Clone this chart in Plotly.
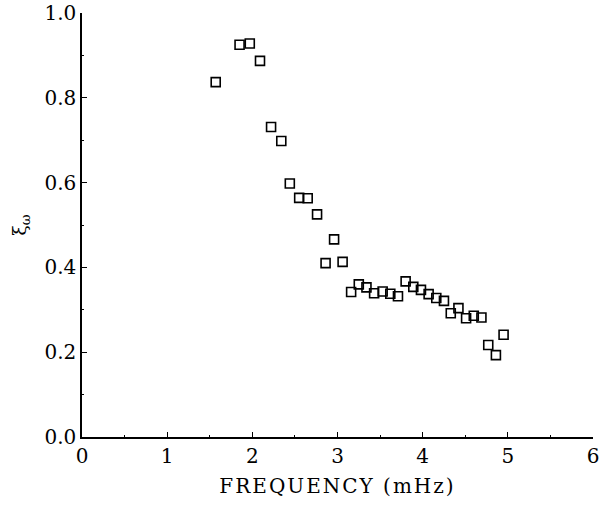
import plotly.graph_objects as go

freq = [1.57, 1.85, 1.97, 2.09, 2.22, 2.34, 2.44, 2.55, 2.65, 2.76, 2.86, 2.96, 3.06,
        3.16, 3.25, 3.34, 3.43, 3.53, 3.62, 3.71, 3.80, 3.89, 3.98, 4.07, 4.16, 4.25,
        4.33, 4.42, 4.51, 4.60, 4.69, 4.77, 4.86, 4.95]
xi = [0.837, 0.925, 0.928, 0.887, 0.731, 0.698, 0.598, 0.564, 0.563, 0.525, 0.410, 0.466, 0.413,
      0.342, 0.360, 0.353, 0.339, 0.343, 0.338, 0.332, 0.367, 0.354, 0.347, 0.337, 0.328, 0.321,
      0.292, 0.304, 0.280, 0.286, 0.282, 0.217, 0.193, 0.241]

x_ticks = [0, 1, 2, 3, 4, 5, 6]
y_ticks = [0.0, 0.2, 0.4, 0.6, 0.8, 1.0]
y_ticklabels = ["0.0", "0.2", "0.4", "0.6", "0.8", "1.0"]

font_family = "DejaVu Serif"

fig = go.Figure()
fig.add_trace(go.Scatter(
    x=freq, y=xi, mode="markers",
    marker=dict(symbol="square-open", size=9, color="black", line=dict(width=1.6, color="black")),
    showlegend=False, cliponaxis=False,
))

fig.update_layout(
    width=600, height=509,
    margin=dict(l=82, r=7, t=13, b=72),
    paper_bgcolor="white", plot_bgcolor="white",
    font=dict(family=font_family, size=19, color="black"),
    xaxis=dict(
        range=[0, 6], tickvals=x_ticks, ticktext=[str(v) for v in x_ticks],
        automargin=False, ticklabeloverflow="allow",
        showline=True, linecolor="black", linewidth=1.5, showgrid=False, zeroline=False,
        ticks="inside", ticklen=5, tickwidth=1, tickcolor="black",
        minor=dict(ticks="inside", ticklen=2, dtick=0.5, tickcolor="black"),
        title=dict(text='<span style="letter-spacing:2px">FREQUENCY (mHz)</span>',
                   font=dict(family=font_family, size=20), standoff=12),
        tickfont=dict(family=font_family, size=20),
    ),
    yaxis=dict(
        range=[0, 1], tickvals=y_ticks, ticktext=y_ticklabels,
        automargin=False, ticklabeloverflow="allow",
        showline=True, linecolor="black", linewidth=1.5, showgrid=False, zeroline=False,
        ticks="inside", ticklen=5, tickwidth=1, tickcolor="black",
        minor=dict(ticks="inside", ticklen=2, dtick=0.1, tickcolor="black"),
        title=dict(text="ξ<sub>ω</sub>", font=dict(family=font_family, size=19), standoff=13),
        tickfont=dict(family=font_family, size=20),
    ),
)

fig.write_html("out.html", config={"displayModeBar": False},
               post_script="document.body.style.margin='0';")
